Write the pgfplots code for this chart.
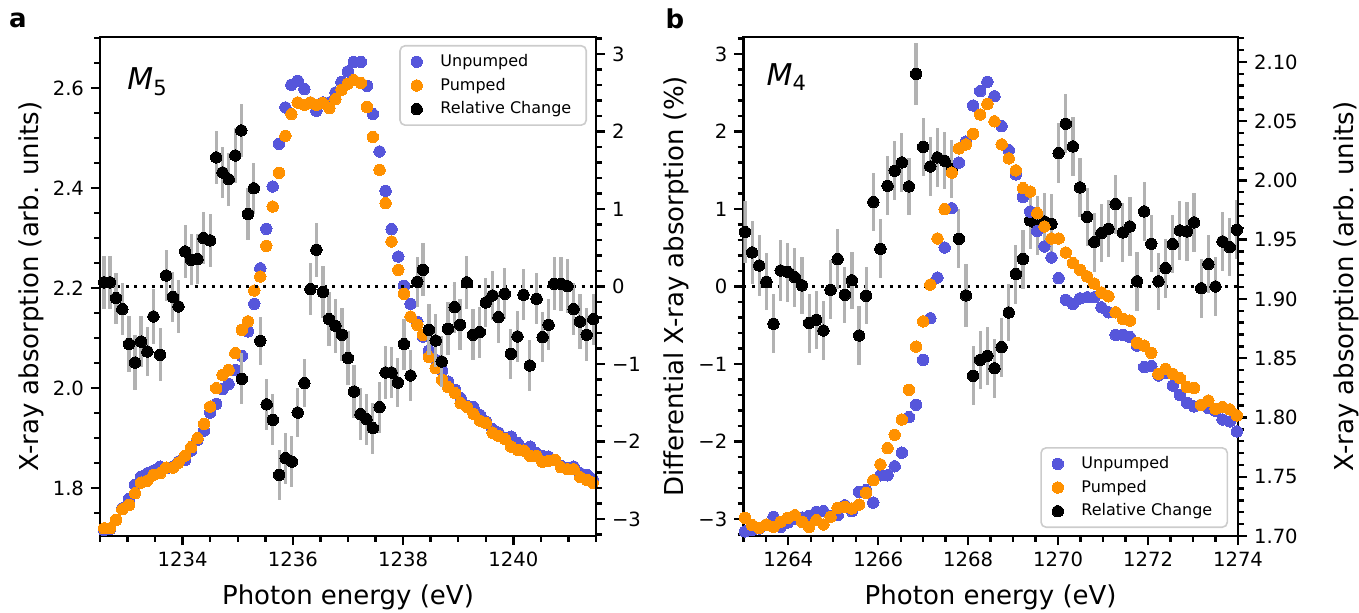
\documentclass[border=0pt]{standalone}
\usepackage{fontspec}
\setmainfont{DejaVu Sans}
\usepackage{pgfplots}
\usepackage{pgfplotstable}
\pgfplotsset{compat=1.18}
\definecolor{unp}{RGB}{86,86,219}
\definecolor{pmp}{RGB}{255,145,0}
\definecolor{ebar}{RGB}{178,178,178}

% M5 edge: absorption (left axis) and relative change (right axis)
\pgfplotstableread{
x u p
1232.573 1.7166 1.7200
1232.682 1.7186 1.7200
1232.791 1.7366 1.7366
1232.905 1.7600 1.7580
1233.027 1.7786 1.7666
1233.136 1.8066 1.7900
1233.245 1.8232 1.8112
1233.360 1.8300 1.8152
1233.469 1.8352 1.8266
1233.591 1.8432 1.8300
1233.700 1.8400 1.8412
1233.822 1.8432 1.8412
1233.924 1.8532 1.8512
1234.045 1.8566 1.8652
1234.155 1.8752 1.8820
1234.269 1.8966 1.9000
1234.391 1.9152 1.9286
1234.500 1.9512 1.9632
1234.609 1.9686 2.0000
1234.724 1.9980 2.0266
1234.833 2.0086 2.0366
1234.955 2.0366 2.0700
1235.073 2.0646 2.1166
1235.185 2.1136 2.1336
1235.300 2.1686 2.1952
1235.409 2.2396 2.2232
1235.518 2.3186 2.2846
1235.633 2.4032 2.3632
1235.749 2.4886 2.4306
1235.864 2.5612 2.5046
1235.973 2.6066 2.5480
1236.087 2.6146 2.5712
1236.209 2.5980 2.5666
1236.318 2.5712 2.5712
1236.427 2.5546 2.5666
1236.542 2.5712 2.5700
1236.664 2.5712 2.5600
1236.773 2.5912 2.5780
1236.882 2.6120 2.5966
1236.996 2.6332 2.6086
1237.105 2.6520 2.6156
1237.233 2.6520 2.6100
1237.345 2.6046 2.5620
1237.451 2.5480 2.5020
1237.573 2.4732 2.4366
1237.682 2.3946 2.3700
1237.791 2.3180 2.2932
1237.913 2.2632 2.2366
1238.015 2.2046 2.1886
1238.136 2.1686 2.1432
1238.258 2.1326 2.1266
1238.360 2.1032 2.1066
1238.469 2.0752 2.0620
1238.591 2.0566 2.0400
1238.709 2.0352 2.0166
1238.818 2.0132 2.0020
1238.945 1.9966 1.9900
1239.045 1.9800 1.9700
1239.164 1.9646 1.9620
1239.278 1.9620 1.9486
1239.391 1.9466 1.9352
1239.505 1.9332 1.9300
1239.622 1.9180 1.9112
1239.733 1.9112 1.9046
1239.851 1.9000 1.8980
1239.960 1.9032 1.8832
1240.082 1.8900 1.8766
1240.191 1.8780 1.8752
1240.304 1.8832 1.8646
1240.418 1.8700 1.8646
1240.527 1.8646 1.8532
1240.636 1.8632 1.8546
1240.755 1.8566 1.8566
1240.864 1.8446 1.8420
1240.985 1.8400 1.8380
1241.095 1.8432 1.8380
1241.215 1.8300 1.8220
1241.336 1.8266 1.8166
1241.440 1.8180 1.8112
}\specA

\pgfplotstableread{
x r e
1232.573 0.054 0.34
1232.682 0.054 0.34
1232.791 -0.150 0.33
1232.905 -0.292 0.34
1233.027 -0.743 0.36
1233.136 -0.981 0.36
1233.245 -0.710 0.33
1233.360 -0.839 0.32
1233.469 -0.387 0.35
1233.591 -0.881 0.34
1233.700 0.142 0.33
1233.822 -0.137 0.32
1233.924 -0.258 0.34
1234.045 0.452 0.34
1234.155 0.345 0.33
1234.269 0.354 0.32
1234.378 0.625 0.33
1234.500 0.594 0.34
1234.609 1.665 0.34
1234.724 1.471 0.33
1234.836 1.383 0.34
1234.955 1.690 0.35
1235.064 2.013 0.34
1235.073 -1.191 0.33
1235.185 0.934 0.34
1235.291 1.267 0.33
1235.409 -0.701 0.31
1235.524 -1.520 0.33
1235.636 -1.720 0.33
1235.751 -2.430 0.32
1235.867 -2.214 0.33
1235.982 -2.258 0.33
1236.087 -1.626 0.32
1236.209 -1.246 0.31
1236.318 -0.034 0.34
1236.427 0.474 0.35
1236.545 -0.072 0.34
1236.655 -0.421 0.35
1236.773 -0.507 0.35
1236.891 -0.623 0.34
1236.999 -0.924 0.35
1237.109 -1.355 0.34
1237.227 -1.646 0.34
1237.336 -1.711 0.33
1237.451 -1.827 0.33
1237.573 -1.556 0.33
1237.682 -1.110 0.34
1237.791 -1.110 0.33
1237.905 -1.239 0.32
1238.015 -0.743 0.33
1238.136 -1.148 0.33
1238.258 0.061 0.32
1238.360 0.215 0.34
1238.469 -0.559 0.33
1238.591 -0.697 0.34
1238.700 -0.968 0.33
1238.815 -0.546 0.34
1238.936 -0.266 0.33
1239.033 -0.494 0.33
1239.155 0.054 0.34
1239.269 -0.623 0.33
1239.391 -0.588 0.33
1239.500 -0.206 0.32
1239.622 -0.116 0.31
1239.731 -0.395 0.33
1239.845 -0.094 0.33
1239.955 -0.868 0.32
1240.076 -0.645 0.33
1240.185 -0.107 0.33
1240.300 -1.019 0.33
1240.422 -0.159 0.33
1240.531 -0.653 0.32
1240.640 -0.494 0.33
1240.742 0.035 0.34
1240.864 0.035 0.35
1240.985 0.003 0.35
1241.095 -0.292 0.34
1241.209 -0.452 0.35
1241.331 -0.623 0.34
1241.451 -0.421 0.33
}\relA

% M4 edge: relative change (left axis) and absorption (right axis)
\pgfplotstableread{
x u p r e
1263.038 1.7038 1.7153 0.702 0.40
1263.196 1.7049 1.7091 0.439 0.41
1263.355 1.7063 1.7069 0.271 0.39
1263.513 1.7097 1.7097 0.061 0.37
1263.672 1.7162 1.7077 -0.481 0.38
1263.830 1.7077 1.7120 0.206 0.39
1263.989 1.7114 1.7153 0.186 0.38
1264.147 1.7147 1.7175 0.119 0.38
1264.306 1.7156 1.7120 0.015 0.37
1264.464 1.7170 1.7077 -0.472 0.38
1264.623 1.7204 1.7133 -0.430 0.37
1264.781 1.7209 1.7097 -0.568 0.38
1264.940 1.7170 1.7162 -0.043 0.38
1265.098 1.7175 1.7237 0.354 0.39
1265.257 1.7259 1.7246 -0.107 0.36
1265.415 1.7209 1.7232 0.080 0.37
1265.574 1.7372 1.7265 -0.632 0.38
1265.732 1.7386 1.7364 -0.120 0.37
1265.891 1.7282 1.7470 1.089 0.37
1266.049 1.7512 1.7604 0.486 0.38
1266.208 1.7512 1.7742 1.299 0.38
1266.366 1.7588 1.7854 1.493 0.38
1266.525 1.7703 1.7983 1.600 0.38
1266.683 1.8003 1.8233 1.290 0.37
1266.842 1.8107 1.8598 2.741 0.40
1267.000 1.8486 1.8811 1.799 0.38
1267.159 1.8837 1.9121 1.548 0.38
1267.317 1.9180 1.9510 1.665 0.38
1267.476 1.9434 1.9757 1.622 0.37
1267.634 1.9765 2.0066 1.515 0.38
1267.793 2.0150 2.0270 0.615 0.38
1267.951 2.0327 2.0304 -0.116 0.40
1268.110 2.0632 2.0394 -1.152 0.38
1268.268 2.0753 2.0556 -0.946 0.37
1268.427 2.0832 2.0645 -0.894 0.37
1268.585 2.0710 2.0498 -1.055 0.38
1268.744 2.0458 2.0304 -0.782 0.38
1268.902 2.0256 2.0186 -0.335 0.37
1269.061 2.0051 2.0085 0.160 0.38
1269.219 1.9860 1.9934 0.354 0.38
1269.378 1.9737 1.9906 0.852 0.37
1269.536 1.9574 1.9723 0.787 0.38
1269.695 1.9443 1.9611 0.839 0.37
1269.853 1.9350 1.9510 0.809 0.38
1270.012 1.9176 1.9510 1.721 0.39
1270.170 1.8993 1.9392 2.099 0.38
1270.329 1.8957 1.9302 1.806 0.38
1270.487 1.9005 1.9246 1.277 0.38
1270.646 1.9014 1.9190 0.895 0.37
1270.804 1.9014 1.9130 0.573 0.38
1270.963 1.8929 1.9055 0.689 0.37
1271.121 1.8887 1.9022 0.745 0.37
1271.280 1.8696 1.8887 1.063 0.38
1271.438 1.8696 1.8831 0.697 0.38
1271.597 1.8677 1.8817 0.774 0.38
1271.755 1.8606 1.8629 0.067 0.38
1271.914 1.8424 1.8606 0.968 0.38
1272.072 1.8433 1.8545 0.551 0.37
1272.231 1.8354 1.8368 0.067 0.37
1272.389 1.8376 1.8410 0.237 0.38
1272.548 1.8269 1.8368 0.547 0.37
1272.706 1.8191 1.8332 0.723 0.38
1272.865 1.8124 1.8256 0.710 0.38
1273.023 1.8093 1.8248 0.826 0.38
1273.182 1.8107 1.8107 -0.023 0.38
1273.340 1.8079 1.8143 0.289 0.37
1273.499 1.8057 1.8073 0.000 0.38
1273.657 1.7983 1.8088 0.581 0.38
1273.816 1.7967 1.8068 0.508 0.37
1273.974 1.7882 1.8017 0.732 0.38
}\specB

\pgfplotsset{
  base/.style={scale only axis, height=249.5bp, enlargelimits=false,
    axis line style={line width=1.4bp},
    every tick/.style={line width=1.2bp, black},
    major tick length=4.5bp, minor tick length=2.8bp, tick align=outside,
    tick label style={font=\fontsize{9.8bp}{11bp}\selectfont},
    label style={font=\fontsize{13bp}{15bp}\selectfont},
    clip=true},
  dot/.style={only marks, mark=*, mark size=2.85bp, color=#1,
    mark options={fill=#1, draw=#1, line width=0pt}},
  zeroline/.style={black, line width=1.5bp, dash pattern=on 1.5bp off 2.8bp, forget plot},
  ebars/.style={error bars/.cd, y dir=both, y explicit,
    error bar style={ebar, line width=1.6bp}, error mark=none},
  leg/.style={legend cell align=left,
    legend style={at={#1}, draw=black!20, line width=0.8bp, rounded corners=2.5bp,
      fill=white, font=\fontsize{8bp}{9.6bp}\selectfont, row sep=0.3bp,
      inner xsep=5.5bp, inner ysep=2.2bp,
      /tikz/every odd column/.append style={column sep=7bp}}},
}

\begin{document}
\begin{tikzpicture}
\path[use as bounding box] (0,0) rectangle (679.5bp,306.5bp);

% ---- panel a ----
\begin{axis}[base, width=248bp, at={(50bp,38.5bp)}, anchor=south west,
  xmin=1232.5, xmax=1241.5, ymin=1.7046, ymax=2.7020,
  xtick={1234,1236,1238,1240}, xticklabels={1234,1236,1238,1240},
  minor xtick={1232.5,1233,...,1241.5},
  ytick={1.8,2.0,2.2,2.4,2.6}, yticklabels={1.8,2.0,2.2,2.4,2.6},
  minor ytick={1.7,1.75,...,2.7},
  xtick pos=left, ytick pos=left,
  xlabel={Photon energy (eV)}, ylabel={X-ray absorption (arb. units)},
  xlabel style={at={(axis description cs:0.5,-0.122)}, anchor=center},
  ylabel style={at={(axis description cs:-0.139,0.5)}, anchor=center}]
\addplot[dot=unp] table[x=x, y=u] {\specA};
\addplot[dot=pmp] table[x=x, y=p] {\specA};
\node[font=\fontsize{15bp}{17bp}\selectfont] at (axis description cs:0.096,0.91) {\textit{M}\textsubscript{5}};
\end{axis}

\begin{axis}[base, width=248bp, at={(50bp,38.5bp)}, anchor=south west,
  xmin=1232.5, xmax=1241.5, ymin=-3.218, ymax=3.218,
  axis x line=none, axis y line*=right,
  ytick={-3,-2,-1,0,1,2,3}, yticklabels={−3,−2,−1,0,1,2,3},
  minor ytick={-3.2,-3.0,...,3.2},
  leg={(axis description cs:0.982,0.984)}, legend style={anchor=north east}]
\addlegendimage{dot=unp}\addlegendentry{Unpumped}
\addlegendimage{dot=pmp}\addlegendentry{Pumped}
\addplot[zeroline] coordinates {(1232.5,0) (1241.5,0)};
\addplot[dot=black, ebars] table[x=x, y=r, y error=e] {\relA};
\addlegendentry{Relative Change}
\end{axis}

% ---- panel b ----
\begin{axis}[base, width=247.35bp, at={(371.65bp,38.5bp)}, anchor=south west,
  xmin=1263, xmax=1274, ymin=-3.218, ymax=3.218,
  xtick={1264,1266,1268,1270,1272,1274}, xticklabels={1264,1266,1268,1270,1272,1274},
  minor xtick={1263,1263.5,...,1274},
  ytick={-3,-2,-1,0,1,2,3}, yticklabels={−3,−2,−1,0,1,2,3},
  minor ytick={-3.2,-3.0,...,3.2},
  xtick pos=left, ytick pos=left,
  xlabel={Photon energy (eV)}, ylabel={Differential X-ray absorption (\%)},
  xlabel style={at={(axis description cs:0.5,-0.122)}, anchor=center},
  ylabel style={at={(axis description cs:-0.136,0.5)}, anchor=center}]
\addplot[zeroline] coordinates {(1263,0) (1274,0)};
\addplot[dot=black, ebars] table[x=x, y=r, y error=e] {\specB};
\node[font=\fontsize{15bp}{17bp}\selectfont] at (axis description cs:0.088,0.92) {\textit{M}\textsubscript{4}};
\end{axis}

\begin{axis}[base, width=247.35bp, at={(371.65bp,38.5bp)}, anchor=south west,
  xmin=1263, xmax=1274, ymin=1.70, ymax=2.121,
  axis x line=none, axis y line*=right,
  ytick={1.70,1.75,1.80,1.85,1.90,1.95,2.00,2.05,2.10},
  yticklabels={1.70,1.75,1.80,1.85,1.90,1.95,2.00,2.05,2.10},
  minor ytick={1.70,1.71,...,2.12},
  ylabel={X-ray absorption (arb. units)},
  ylabel style={at={(axis description cs:1.218,0.5)}, anchor=center},
  leg={(axis description cs:0.98,0.016)}, legend style={anchor=south east}]
\addplot[dot=unp] table[x=x, y=u] {\specB};
\addlegendentry{Unpumped}
\addplot[dot=pmp] table[x=x, y=p] {\specB};
\addlegendentry{Pumped}
\addlegendimage{dot=black}\addlegendentry{Relative Change}
\end{axis}

\node[font=\bfseries\fontsize{13bp}{15bp}\selectfont] at (9bp,296.5bp) {a};
\node[font=\bfseries\fontsize{13bp}{15bp}\selectfont] at (337.5bp,297bp) {b};
\end{tikzpicture}
\end{document}
